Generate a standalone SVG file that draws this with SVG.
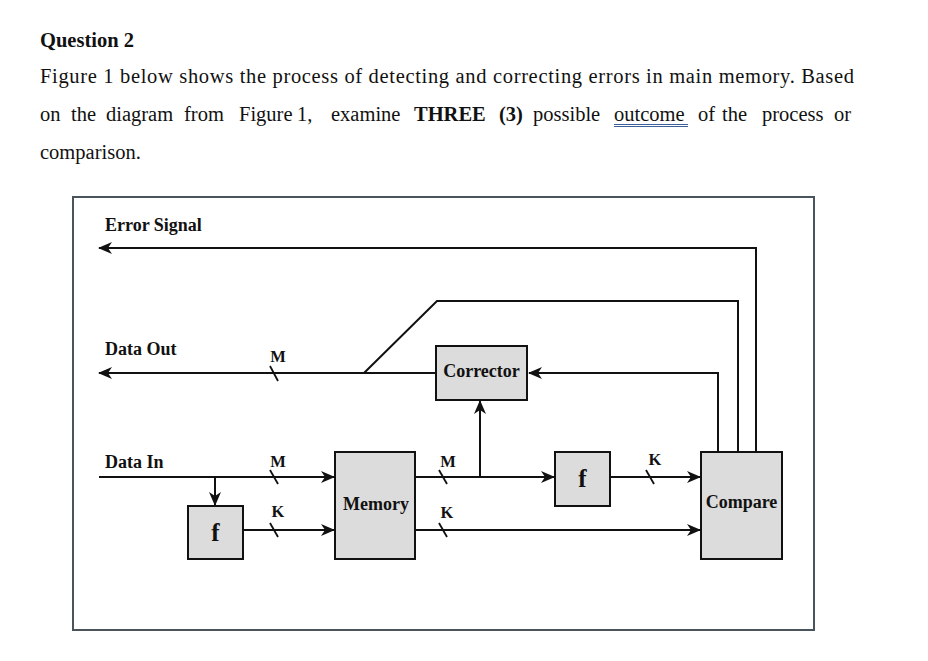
<svg xmlns="http://www.w3.org/2000/svg" width="928" height="661" viewBox="0 0 928 661">
<defs>
<style>
.q{font-family:"Liberation Serif","Times New Roman",serif;font-size:20.5px;fill:#111}
.b{font-weight:bold}
.lbl{font-family:"Liberation Serif","Times New Roman",serif;font-size:18px;font-weight:bold;fill:#111}
.sm{font-family:"Liberation Serif","Times New Roman",serif;font-size:16.5px;font-weight:bold;fill:#111}
.ff{font-family:"Liberation Serif","Times New Roman",serif;font-size:25px;font-weight:bold;fill:#111}
.box{fill:#dcdcdc;stroke:#111;stroke-width:2}
.ln{fill:none;stroke:#111;stroke-width:2}
.sl{stroke:#111;stroke-width:1.8}
</style>
<marker id="ah" markerWidth="14" markerHeight="12" refX="13" refY="6" orient="auto" markerUnits="userSpaceOnUse">
<path d="M0,0 L14,6 L0,12 L4,6 z" fill="#111"/>
</marker>
</defs>
<rect width="928" height="661" fill="#fff"/>
<g id="question">
<text class="q b" x="40" y="47" font-size="21">Question 2</text>
<text class="q" x="40" y="83" textLength="814" lengthAdjust="spacing">Figure 1 below shows the process of detecting and correcting errors in main memory. Based</text>
<text class="q" y="121"><tspan x="40">on</tspan><tspan x="71">the</tspan><tspan x="106">diagram</tspan><tspan x="184">from</tspan><tspan x="239">Figure</tspan><tspan x="297">1,</tspan><tspan x="331">examine</tspan><tspan x="414" class="b">THREE</tspan><tspan x="499" class="b">(3)</tspan><tspan x="533">possible</tspan><tspan x="614">outcome</tspan><tspan x="698">of</tspan><tspan x="722">the</tspan><tspan x="762">process</tspan><tspan x="834">or</tspan></text>
<line x1="614" y1="124.5" x2="688" y2="124.5" stroke="#3e5f9a" stroke-width="1"/>
<line x1="614" y1="126.5" x2="688" y2="126.5" stroke="#3e5f9a" stroke-width="1"/>
<text class="q" x="40" y="159">comparison.</text>
</g>
<rect id="frame" x="73" y="197" width="741" height="433" fill="none" stroke="#4a545c" stroke-width="2"/>
<g id="labels">
<text class="lbl" x="105" y="231">Error Signal</text>
<text class="lbl" x="105" y="355">Data Out</text>
<text class="lbl" x="105" y="468">Data In</text>
</g>
<g id="connectors">
<polyline class="ln" points="756,451 756,248 99,248" marker-end="url(#ah)"/>
<polyline class="ln" points="738,451 738,301 437,301 364,373"/>
<line class="ln" x1="436" y1="373" x2="99" y2="373" marker-end="url(#ah)"/>
<polyline class="ln" points="718,451 718,373 529,373" marker-end="url(#ah)"/>
<line class="ln" x1="99" y1="477" x2="334" y2="477" marker-end="url(#ah)"/>
<line class="ln" x1="215" y1="477" x2="215" y2="505" marker-end="url(#ah)"/>
<line class="ln" x1="243" y1="530" x2="334" y2="530" marker-end="url(#ah)"/>
<line class="ln" x1="415" y1="477" x2="554" y2="477" marker-end="url(#ah)"/>
<line class="ln" x1="480" y1="477" x2="480" y2="401" marker-end="url(#ah)"/>
<line class="ln" x1="610" y1="477" x2="700" y2="477" marker-end="url(#ah)"/>
<line class="ln" x1="415" y1="530" x2="700" y2="530" marker-end="url(#ah)"/>
<line class="sl" x1="270" y1="366" x2="278" y2="381"/>
<line class="sl" x1="270" y1="470" x2="278" y2="484"/>
<line class="sl" x1="270" y1="523" x2="278" y2="537"/>
<line class="sl" x1="439" y1="470" x2="447" y2="484"/>
<line class="sl" x1="439" y1="523" x2="447" y2="537"/>
<line class="sl" x1="646" y1="470" x2="654" y2="484"/>
<text class="sm" x="278" y="362" text-anchor="middle">M</text>
<text class="sm" x="278" y="467" text-anchor="middle">M</text>
<text class="sm" x="278" y="517" text-anchor="middle">K</text>
<text class="sm" x="448" y="467" text-anchor="middle">M</text>
<text class="sm" x="447" y="518" text-anchor="middle">K</text>
<text class="sm" x="655" y="465" text-anchor="middle">K</text>
</g>
<g id="corrector">
<rect class="box" x="436" y="346" width="91" height="54"/>
<text class="lbl" x="481.5" y="377" text-anchor="middle">Corrector</text>
</g>
<g id="memory">
<rect class="box" x="335" y="452" width="80" height="107"/>
<text class="lbl" x="376" y="510" text-anchor="middle">Memory</text>
</g>
<g id="f-in">
<rect class="box" x="188" y="506" width="55" height="53"/>
<text class="ff" x="215.5" y="541" text-anchor="middle">f</text>
</g>
<g id="f-out">
<rect class="box" x="555" y="452" width="55" height="54"/>
<text class="ff" x="582.5" y="487" text-anchor="middle">f</text>
</g>
<g id="compare">
<rect class="box" x="701" y="452" width="81" height="107"/>
<text class="lbl" x="741.5" y="508" text-anchor="middle">Compare</text>
</g>
</svg>
